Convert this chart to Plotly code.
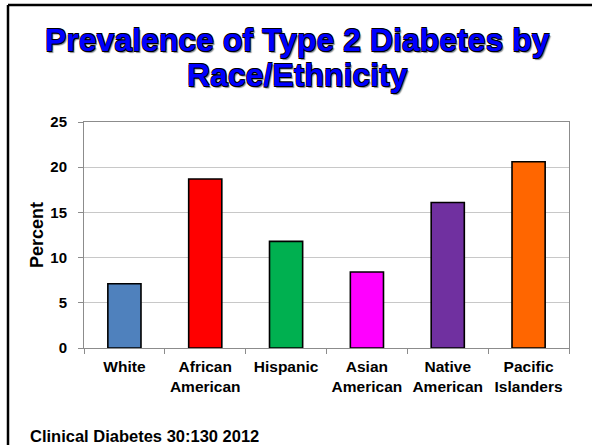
import plotly.graph_objects as go

categories = ["White", "African<br>American", "Hispanic", "Asian<br>American", "Native<br>American", "Pacific<br>Islanders"]
values = [7.1, 18.7, 11.8, 8.4, 16.1, 20.6]
colors = ["#4F81BD", "#FF0000", "#00B050", "#FF00FF", "#7030A0", "#FF6600"]
y_ticks = [0, 5, 10, 15, 20, 25]

W, H = 592, 445
L, R, T, B = 84, 23, 122, 97
PW, PH = W - L - R, H - T - B

def px(x):
    return (x - L) / PW

def py(y):
    return (H - B - y) / PH

fig = go.Figure()
fig.add_trace(go.Bar(
    x=categories, y=values,
    marker=dict(color=colors, line=dict(color="black", width=1.6)),
    width=0.41,
))

font_family = "Liberation Sans, Arial, sans-serif"

fig.update_layout(
    width=W, height=H,
    margin=dict(l=L, r=R, t=T, b=B),
    paper_bgcolor="white", plot_bgcolor="white",
    showlegend=False,
    font=dict(family=font_family, color="black"),
    xaxis=dict(
        type="category",
        tickvals=categories,
        ticktext=["<b>" + c + "</b>" for c in categories],
        showline=True, linecolor="#8c8c8c", linewidth=1, mirror=True,
        ticks="outside", tickson="boundaries", ticklen=5, tickcolor="#8c8c8c",
        tickfont=dict(size=15.5, family=font_family),
        ticklabelstandoff=4,
        showgrid=False,
    ),
    yaxis=dict(
        range=[0, 25], tickvals=y_ticks,
        ticktext=["<b>%d</b>" % v for v in y_ticks],
        showline=True, linecolor="#8c8c8c", linewidth=1, mirror=True,
        ticks="outside", ticklen=5, tickcolor="#8c8c8c",
        tickfont=dict(size=15, family=font_family),
        ticklabelstandoff=8,
        showgrid=True, gridcolor="#c8c8c8", gridwidth=1,
        title=dict(text="<b>Percent</b>", font=dict(size=18, family=font_family), standoff=2),
        zeroline=False,
    ),
)

title_lines = ["Prevalence of Type 2 Diabetes by", "Race/Ethnicity"]
title_y = [40, 75]
for txt, yy in zip(title_lines, title_y):
    fig.add_annotation(
        text="<b>" + txt + "</b>", xref="paper", yref="paper",
        x=px(297), y=py(yy), xanchor="center", yanchor="middle",
        showarrow=False,
        font=dict(size=32, family=font_family, color="#0000FF",
                  shadow="0.6px 0.6px 0px #000, -0.6px -0.6px 0px #000, 0.6px -0.6px 0px #000, -0.6px 0.6px 0px #000, 1.5px 1.5px 1px #888"),
    )

fig.add_annotation(
    text="<b>Clinical Diabetes 30:130 2012</b>", xref="paper", yref="paper",
    x=px(28), y=py(435.5), xanchor="left", yanchor="middle", showarrow=False,
    font=dict(size=16.5, family=font_family, color="black"),
)

# slide frame (left and top edges)
fig.add_shape(type="line", xref="paper", yref="paper",
              x0=px(8), x1=px(8), y0=py(460), y1=py(5), line=dict(color="black", width=2.5))
fig.add_shape(type="line", xref="paper", yref="paper",
              x0=px(8), x1=px(610), y0=py(5), y1=py(5), line=dict(color="black", width=2.5))

fig.write_html("out.html")
